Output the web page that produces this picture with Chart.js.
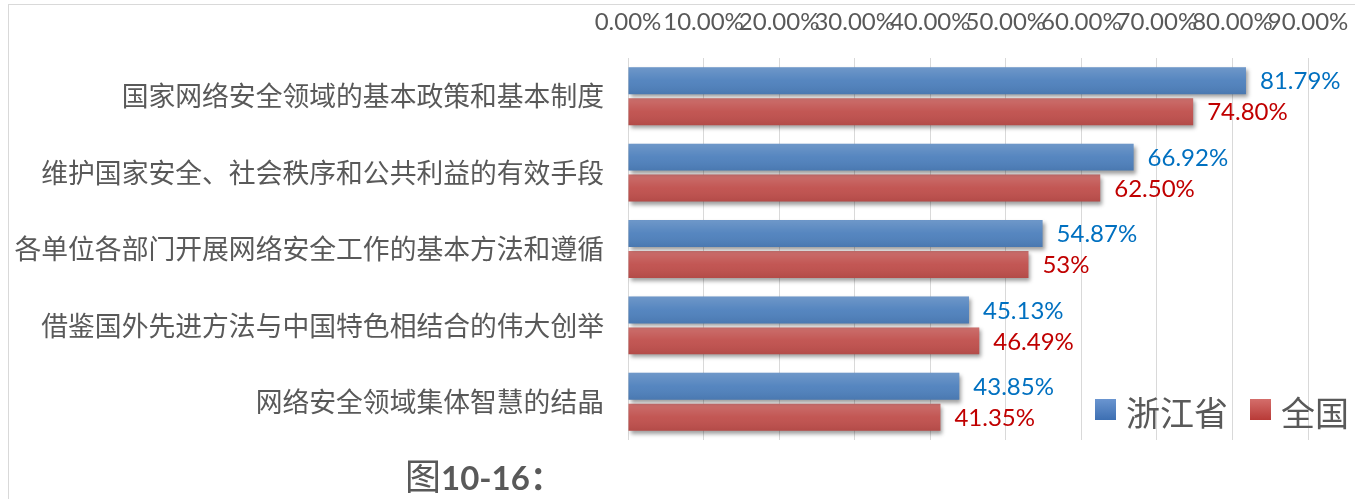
<!DOCTYPE html>
<html>
<head>
<meta charset="utf-8">
<script src="https://cdn.jsdelivr.net/npm/chart.js@4"></script>
<style>
  html, body { margin: 0; padding: 0; background: #fff; }
  #wrap { position: relative; width: 1355px; height: 499px; overflow: hidden; }
  #frame { position: absolute; left: 8px; top: 4px; width: 1500px; height: 700px; border: 1px solid #d9d9d9; box-sizing: border-box; }
  canvas { position: absolute; left: 0; top: 0; }
  .txt { position: absolute; color: #595959; white-space: nowrap; font-family: "Noto Sans CJK SC", sans-serif; }
  .sq { position: absolute; width: 21px; height: 21px; }
</style>
</head>
<body>
<div id="wrap">
  <div id="frame"></div>
  <canvas id="c" width="1355" height="499"></canvas>
  <div class="sq" style="left:1095px;top:399px;background:linear-gradient(#6a95d0,#3d6fb2)"></div>
  <div class="txt" style="left:1126px;top:393px;font-size:34px;line-height:38px">浙江省</div>
  <div class="sq" style="left:1250px;top:399px;background:linear-gradient(#d46e6b,#b83a37)"></div>
  <div class="txt" style="left:1281px;top:393px;font-size:34px;line-height:38px">全国</div>
  <div class="txt" style="left:405px;top:454px;line-height:40px"><span style="font-size:36px">图</span><span style="font-family:Lato,'Noto Sans CJK SC';font-weight:bold;font-size:33px">10-16：</span></div>
</div>
<script>
// Horizontal grouped bars, Zhejiang vs national
const $ = id => document.getElementById(id);

const categories = [
  "国家网络安全领域的基本政策和基本制度",
  "维护国家安全、社会秩序和公共利益的有效手段",
  "各单位各部门开展网络安全工作的基本方法和遵循",
  "借鉴国外先进方法与中国特色相结合的伟大创举",
  "网络安全领域集体智慧的结晶"
];
const zhejiang = [81.79, 66.92, 54.87, 45.13, 43.85];
const national = [74.80, 62.50, 53, 46.49, 41.35];
const zhejiangLabels = ["81.79%", "66.92%", "54.87%", "45.13%", "43.85%"];
const nationalLabels = ["74.80%", "62.50%", "53%", "46.49%", "41.35%"];
const seriesNames = ["浙江省", "全国"];
const xMin = 0, xMax = 90, xStep = 10;

const C = {blue: "#4f81bd", red: "#c0504d", blueTxt: "#0070c0", redTxt: "#c00000", grid: "#d9d9d9", text: "#595959"};
const LABELS = [zhejiangLabels, nationalLabels];
const LABEL_COLORS = [C.blueTxt, C.redTxt];

// drop shadow under the bars
const shadowPlugin = {
  id: "barShadow",
  beforeDatasetDraw(chart) {
    const ctx = chart.ctx;
    ctx.save();
    ctx.shadowColor = "rgba(0,0,0,0.38)";
    ctx.shadowBlur = 4; ctx.shadowOffsetX = 2; ctx.shadowOffsetY = 3;
  },
  afterDatasetDraw(chart) { chart.ctx.restore(); }
};

// light-to-dark sheen on each bar + value labels
const sheenPlugin = {
  id: "sheenLabels",
  afterDatasetsDraw(chart) {
    const ctx = chart.ctx;
    chart.data.datasets.forEach((ds, d) => {
      chart.getDatasetMeta(d).data.forEach((bar, i) => {
        const {x, y, base, height} = bar.getProps(["x", "y", "base", "height"], true);
        const top = y - height / 2;
        const g = ctx.createLinearGradient(0, top, 0, top + height);
        g.addColorStop(0, "rgba(255,255,255,0.18)");
        g.addColorStop(0.5, "rgba(255,255,255,0.04)");
        g.addColorStop(1, "rgba(0,0,0,0.07)");
        ctx.fillStyle = g;
        ctx.fillRect(base, top, x - base, height);
        ctx.font = "24px Lato";
        ctx.fillStyle = LABEL_COLORS[d];
        ctx.textBaseline = "middle";
        ctx.textAlign = "left";
        ctx.fillText(LABELS[d][i], x + 14, y + 1);
      });
    });
  }
};

new Chart($("c"), {
  type: "bar",
  data: {
    labels: categories,
    datasets: [
      {label: seriesNames[0], data: zhejiang, backgroundColor: C.blue, categoryPercentage: 0.81, barPercentage: 0.87},
      {label: seriesNames[1], data: national, backgroundColor: C.red, categoryPercentage: 0.81, barPercentage: 0.87}
    ]
  },
  options: {
    indexAxis: "y", responsive: false, animation: false,
    layout: {padding: {left: 0, top: 0, right: 47, bottom: 59}},
    plugins: {legend: {display: false}, tooltip: {enabled: false}},
    scales: {
      x: {
        position: "top", min: xMin, max: xMax,
        afterFit: s => { s.height = 58; s.paddingLeft = 0; s.paddingRight = 0; },
        grid: {color: C.grid, drawTicks: false},
        border: {display: false},
        ticks: {stepSize: xStep, autoSkip: false, maxRotation: 0, minRotation: 0, padding: 21,
                color: C.text, font: {family: "Lato", size: 24},
                callback: v => v.toFixed(2) + "%"}
      },
      y: {
        afterFit: s => { s.width = 628; },
        grid: {display: false, drawTicks: false},
        border: {display: false},
        ticks: {padding: 24, color: C.text, font: {family: "'Noto Sans CJK SC'", size: 26.8}}
      }
    }
  },
  plugins: [shadowPlugin, sheenPlugin]
});
</script>
</body>
</html>
